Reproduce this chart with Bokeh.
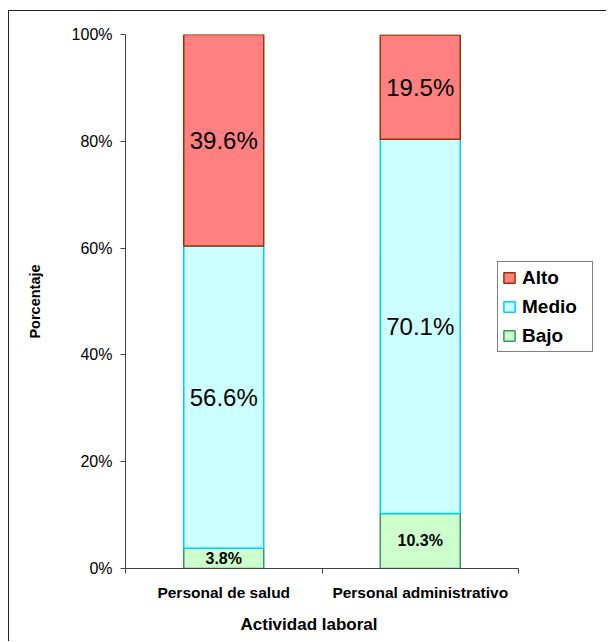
from bokeh.plotting import figure
from bokeh.models import (ColumnDataSource, Range1d, FixedTicker, PrintfTickFormatter,
                          Legend, LegendItem, Title)
from bokeh.core.properties import value
from bokeh.embed import file_html
from bokeh.resources import INLINE

categories = ["Personal de salud", "Personal administrativo"]
levels = ["Bajo", "Medio", "Alto"]
bajo = [3.8, 10.3]
medio = [56.6, 70.1]
alto = [39.6, 19.5]
y_ticks = [0, 20, 40, 60, 80, 100]

fills = {"Alto": "#FF8080", "Medio": "#CCFFFF", "Bajo": "#CCFFCC"}
lines = {"Alto": "#993300", "Medio": "#00CCFF", "Bajo": "#339966"}

FONT = "Liberation Sans"

n = len(categories)
# axis spans 393 px for the categories; the frame is extended to 475 px so the
# legend (which overlaps the right end of the plot area) is not clipped
x_end = n * 475 / 393

xs = [i + 0.5 for i in range(n)]
src = ColumnDataSource(dict(x=xs, Bajo=bajo, Medio=medio, Alto=alto))

p = figure(width=598, height=631, output_backend="svg", toolbar_location=None,
           x_range=Range1d(0, x_end), y_range=Range1d(0, 100),
           min_border_left=116, min_border_top=23, min_border_right=7,
           min_border_bottom=74)
p.styles = {"border-left": "1px solid #222", "border-top": "1px solid #222",
            "margin-left": "8px", "margin-top": "10px"}
p.outline_line_color = None
p.xgrid.visible = False
p.ygrid.visible = False

rends = p.vbar_stack(levels, x="x", width=0.407, source=src,
                     fill_color=[fills[l] for l in levels],
                     line_color=[lines[l] for l in levels], line_width=1.5)

# value labels at segment centres
lab_x, lab_y, lab_t, big_x, big_y, big_t = [], [], [], [], [], []
for i, x in enumerate(xs):
    base = 0.0
    for lev, arr in zip(levels, [bajo, medio, alto]):
        v = arr[i]
        c = base + v / 2
        if lev == "Bajo":
            lab_x.append(x); lab_y.append(c); lab_t.append(f"{v:.1f}%")
        else:
            big_x.append(x); big_y.append(c); big_t.append(f"{v:.1f}%")
        base += v

p.text(x=big_x, y=big_y, text=big_t, text_align="center", text_baseline="middle",
       text_font=value(FONT), text_font_size="24px", text_color="black")
p.text(x=lab_x, y=lab_y, text=lab_t, text_align="center", text_baseline="middle",
       text_font=value(FONT), text_font_size="16px", text_font_style="bold",
       text_color="black")

# axes
xa = p.xaxis[0]
xa.bounds = (0, n)
xa.ticker = FixedTicker(ticks=xs, minor_ticks=list(range(n + 1)))
xa.major_label_overrides = {x: c for x, c in zip(xs, categories)}
xa.major_tick_out = 0
xa.major_tick_in = 0
xa.minor_tick_out = 5
xa.minor_tick_in = 0
xa.major_label_standoff = 10
xa.major_label_text_font = FONT
xa.major_label_text_font_size = "15.5px"
xa.major_label_text_font_style = "bold"
xa.major_label_text_color = "black"
xa.axis_line_color = "#404040"
xa.minor_tick_line_color = "#404040"

# x-axis title, centred under the category axis (not the extended frame)
xt = Title(text="Actividad laboral", align="left", offset=115, standoff=18,
           text_font=FONT, text_font_size="17px", text_font_style="bold",
           text_color="black")
p.add_layout(xt, "below")

ya = p.yaxis[0]
ya.ticker = FixedTicker(ticks=y_ticks, minor_ticks=[])
ya.formatter = PrintfTickFormatter(format="%d%%")
ya.major_tick_out = 5
ya.major_tick_in = 0
ya.major_label_standoff = 8
ya.major_label_text_font = FONT
ya.major_label_text_font_size = "16px"
ya.major_label_text_color = "black"
ya.axis_label = "Porcentaje"
ya.axis_label_text_font = FONT
ya.axis_label_text_font_size = "14.5px"
ya.axis_label_text_font_style = "bold"
ya.axis_label_text_color = "black"
ya.axis_label_standoff = 26
ya.axis_line_color = "#404040"
ya.major_tick_line_color = "#404040"

by = dict(zip(levels, rends))
legend = Legend(items=[LegendItem(label=l, renderers=[by[l]]) for l in ["Alto", "Medio", "Bajo"]],
                location=(372, 216), orientation="vertical",
                padding=4, spacing=6, margin=0,
                glyph_width=14, glyph_height=13, label_height=23, label_width=66,
                label_standoff=6,
                label_text_font=FONT, label_text_font_size="19px",
                label_text_font_style="bold", label_text_color="black",
                border_line_color="black", border_line_width=1,
                background_fill_alpha=1.0)
p.add_layout(legend, "center")

open("out.html", "w").write(file_html(p, INLINE))
